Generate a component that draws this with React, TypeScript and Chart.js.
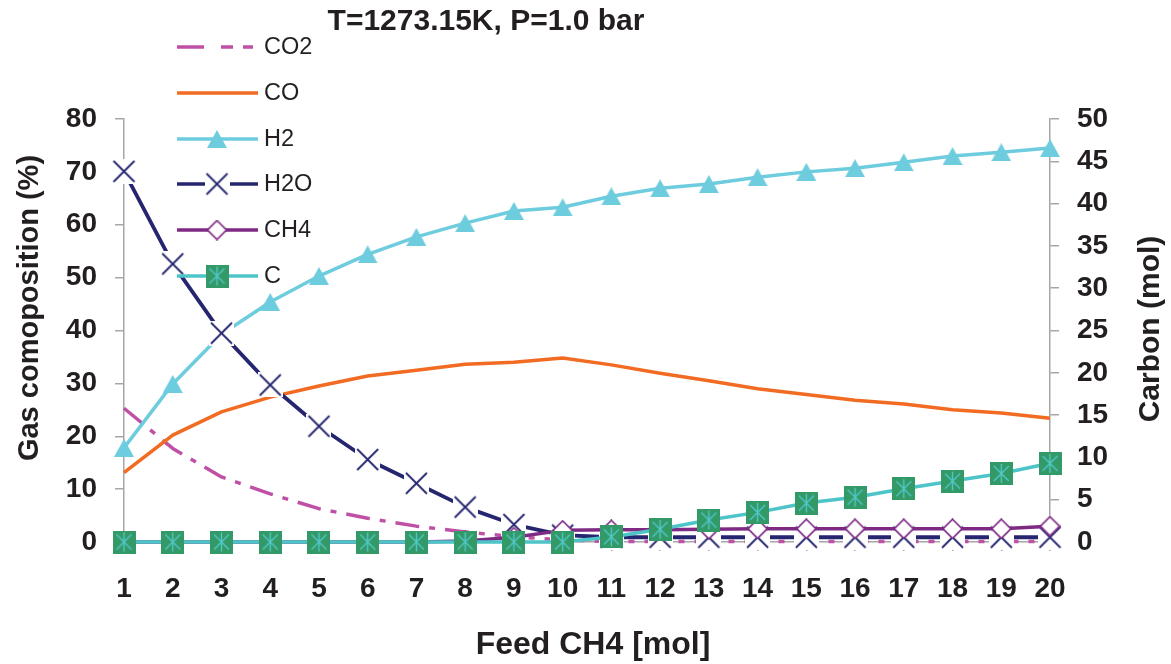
import React, { useEffect, useRef } from 'react';
import { Chart, registerables } from 'chart.js';
Chart.register(...registerables);

// ---------- data ----------
const feedCH4 = ['1', '2', '3', '4', '5', '6', '7', '8', '9', '10', '11', '12', '13', '14', '15', '16', '17', '18', '19', '20'];
const co2 = [25.3, 17.7, 12.3, 9.1, 6.3, 4.5, 3.0, 1.9, 1.0, 0.4, 0.1, 0.1, 0.1, 0.1, 0.1, 0.1, 0.1, 0.1, 0.1, 0.1];
const co = [13.1, 20.2, 24.6, 27.4, 29.5, 31.4, 32.5, 33.6, 34.0, 34.8, 33.5, 31.9, 30.5, 29.0, 27.9, 26.8, 26.1, 25.0, 24.4, 23.4];
const h2 = [17.8, 29.9, 39.3, 45.4, 50.3, 54.4, 57.7, 60.3, 62.6, 63.3, 65.4, 66.9, 67.7, 69.0, 70.0, 70.7, 71.8, 73.0, 73.7, 74.5];
const h2o = [70.1, 52.6, 39.5, 29.7, 21.9, 15.6, 11.1, 6.6, 3.3, 1.3, 0.9, 0.9, 0.9, 0.9, 0.9, 0.9, 0.9, 0.9, 0.9, 0.9];
const ch4 = [0, 0, 0, 0, 0, 0, 0, 0.2, 0.9, 2.2, 2.3, 2.3, 2.4, 2.5, 2.5, 2.5, 2.5, 2.5, 2.5, 3.0];
const carbon = [0, 0, 0, 0, 0, 0, 0, 0, 0, 0, 0.6, 1.5, 2.6, 3.5, 4.6, 5.3, 6.3, 7.2, 8.1, 9.3];
const seriesNames = ['CO2', 'CO', 'H2', 'H2O', 'CH4', 'C'];
const titleText = 'T=1273.15K, P=1.0 bar';
const leftTitle = 'Gas comoposition (%)';
const rightTitle = 'Carbon (mol)';
const bottomTitle = 'Feed CH4 [mol]';

// ---------- styles ----------
const FONT = "'Liberation Sans', Arial, Helvetica, sans-serif";
const TEXT = '#231F20';
const AXIS = '#A6A6A6';
const C_CO2 = '#BF50A6';
const C_CO = '#F26B22';
const C_H2 = '#6DCCDD';
const C_H2O = '#25266F';
const C_CH4 = '#7E2A84';
const C_CLINE = '#4CC4C8';
const C_CBOX = '#339966';

function mkCanvas(w: number, h: number) {
  const c = document.createElement('canvas');
  c.width = w;
  c.height = h;
  return c;
}
function makeTriangle() {
  const c = mkCanvas(20, 18);
  const g = c.getContext('2d')!;
  g.fillStyle = C_H2;
  g.beginPath();
  g.moveTo(10, 0);
  g.lineTo(20, 18);
  g.lineTo(0, 18);
  g.closePath();
  g.fill();
  return c;
}
function makeXBox() {
  const c = mkCanvas(25, 25);
  const g = c.getContext('2d')!;
  g.fillStyle = '#ffffff';
  g.fillRect(0, 0, 25, 25);
  g.strokeStyle = C_H2O;
  g.lineWidth = 1.8;
  g.beginPath();
  g.moveTo(2, 2);
  g.lineTo(23, 23);
  g.moveTo(23, 2);
  g.lineTo(2, 23);
  g.stroke();
  return c;
}
function makeDiamond() {
  const c = mkCanvas(21, 21);
  const g = c.getContext('2d')!;
  g.fillStyle = '#ffffff';
  g.strokeStyle = C_CH4;
  g.lineWidth = 1.7;
  g.beginPath();
  g.moveTo(10.5, 1);
  g.lineTo(20, 10.5);
  g.lineTo(10.5, 20);
  g.lineTo(1, 10.5);
  g.closePath();
  g.fill();
  g.stroke();
  return c;
}
function makeCBox() {
  const c = mkCanvas(23, 23);
  const g = c.getContext('2d')!;
  g.fillStyle = C_CBOX;
  g.fillRect(0, 0, 23, 23);
  g.strokeStyle = '#52C8CC';
  g.lineWidth = 1.4;
  g.beginPath();
  g.moveTo(11.5, 2);
  g.lineTo(11.5, 21);
  g.moveTo(4, 4);
  g.lineTo(19, 19);
  g.moveTo(19, 4);
  g.lineTo(4, 19);
  g.stroke();
  return c;
}

export default function App() {
  const ref = useRef<HTMLCanvasElement | null>(null);

  useEffect(() => {
    if (!ref.current) return;
    const tri = makeTriangle();
    const xbox = makeXBox();
    const dia = makeDiamond();
    const cbox = makeCBox();

    const legendItems = [
      { color: C_CO2, dash: [27, 17, 12, 10, 10, 10], marker: null as HTMLCanvasElement | null },
      { color: C_CO, dash: [], marker: null },
      { color: C_H2, dash: [], marker: tri },
      { color: C_H2O, dash: [], marker: xbox },
      { color: C_CH4, dash: [], marker: dia },
      { color: C_CLINE, dash: [], marker: cbox },
    ];
    const legendY = [47, 93, 139, 184, 230, 276];

    const overlay = {
      id: 'overlay',
      afterDatasetsDraw(chart: any) {
        const ctx = chart.ctx as CanvasRenderingContext2D;
        ctx.save();
        legendItems.forEach((it, i) => {
          const y = legendY[i];
          ctx.strokeStyle = it.color;
          ctx.lineWidth = 3.5;
          ctx.setLineDash(it.dash);
          ctx.beginPath();
          ctx.moveTo(177, y);
          ctx.lineTo(258, y);
          ctx.stroke();
          ctx.setLineDash([]);
          if (it.marker) {
            ctx.drawImage(it.marker, 217 - it.marker.width / 2, y - it.marker.height / 2);
          }
          ctx.fillStyle = TEXT;
          ctx.font = `23.5px ${FONT}`;
          ctx.textAlign = 'left';
          ctx.textBaseline = 'middle';
          ctx.fillText(seriesNames[i], 264, y + 1);
        });
        ctx.fillStyle = TEXT;
        ctx.textAlign = 'center';
        ctx.textBaseline = 'middle';
        ctx.font = `bold 30px ${FONT}`;
        ctx.fillText(titleText, 486, 22);
        // axis titles
        ctx.font = `bold 32px ${FONT}`;
        ctx.fillText(bottomTitle, 593, 645);
        ctx.save();
        ctx.translate(30, 308);
        ctx.rotate(-Math.PI / 2);
        ctx.font = `bold 29px ${FONT}`;
        ctx.fillText(leftTitle, 0, 0);
        ctx.restore();
        ctx.save();
        ctx.translate(1151, 329);
        ctx.rotate(-Math.PI / 2);
        ctx.font = `bold 30px ${FONT}`;
        ctx.fillText(rightTitle, 0, 0);
        ctx.restore();
        ctx.restore();
      },
    };

    const common = { fill: false, tension: 0, clip: false as any, borderWidth: 3.5 };

    const chart = new Chart(ref.current, {
      type: 'line',
      data: {
        labels: feedCH4,
        datasets: [
          { ...common, label: seriesNames[0], data: co2, yAxisID: 'y', borderColor: C_CO2, borderDash: [24, 10, 6, 10], pointRadius: 0, order: 6 },
          { ...common, label: seriesNames[1], data: co, yAxisID: 'y', borderColor: C_CO, pointRadius: 0, order: 5 },
          { ...common, label: seriesNames[2], data: h2, yAxisID: 'y', borderColor: C_H2, pointStyle: tri, pointRadius: 10, order: 4 },
          { ...common, label: seriesNames[3], data: h2o, yAxisID: 'y', borderColor: C_H2O, pointStyle: xbox, pointRadius: 12, order: 3, borderWidth: 3.8 },
          { ...common, label: seriesNames[4], data: ch4, yAxisID: 'y', borderColor: C_CH4, pointStyle: dia, pointRadius: 10, order: 2 },
          { ...common, label: seriesNames[5], data: carbon, yAxisID: 'y1', borderColor: C_CLINE, pointStyle: cbox, pointRadius: 11, order: 1 },
        ] as any,
      },
      options: {
        responsive: false,
        animation: false,
        devicePixelRatio: 1,
        layout: { padding: { top: 119, left: 0, right: 0, bottom: 0 } },
        plugins: { legend: { display: false }, tooltip: { enabled: false }, title: { display: false } },
        elements: { line: { borderCapStyle: 'butt', borderJoinStyle: 'round' } },
        scales: {
          x: {
            type: 'category',
            offset: false,
            grid: { display: true, drawOnChartArea: false, drawTicks: true, tickLength: 9, color: AXIS, lineWidth: 1.5 },
            border: { display: true, color: AXIS, width: 1.5 },
            ticks: { color: TEXT, font: { family: FONT, size: 28, weight: 'bold' }, padding: 21, maxRotation: 0, autoSkip: false },
            title: { display: false },
            afterFit: (s: any) => { s.height = 122; },
          },
          y: {
            position: 'left',
            min: 0,
            max: 80,
            grid: { display: true, drawOnChartArea: false, drawTicks: true, tickLength: 9, color: AXIS, lineWidth: 1.5 },
            border: { display: true, color: AXIS, width: 1.5 },
            ticks: { stepSize: 10, color: TEXT, font: { family: FONT, size: 28, weight: 'bold' }, padding: 18 },
            title: { display: false },
            afterFit: (s: any) => { s.width = 124; },
          },
          y1: {
            position: 'right',
            min: 0,
            max: 50,
            grid: { display: true, drawOnChartArea: false, drawTicks: true, tickLength: 9, color: AXIS, lineWidth: 1.5 },
            border: { display: true, color: AXIS, width: 1.5 },
            ticks: { stepSize: 5, color: TEXT, font: { family: FONT, size: 28, weight: 'bold' }, padding: 18 },
            title: { display: false },
            afterFit: (s: any) => { s.width = 121; },
          },
        },
      } as any,
      plugins: [overlay],
    });
    return () => chart.destroy();
  }, []);

  return (
    <div style={{ position: 'absolute', left: 0, top: 0, width: 1171, height: 664, background: '#fff' }}>
      <canvas ref={ref} width={1171} height={664} style={{ display: 'block', width: 1171, height: 664 }} />
    </div>
  );
}
